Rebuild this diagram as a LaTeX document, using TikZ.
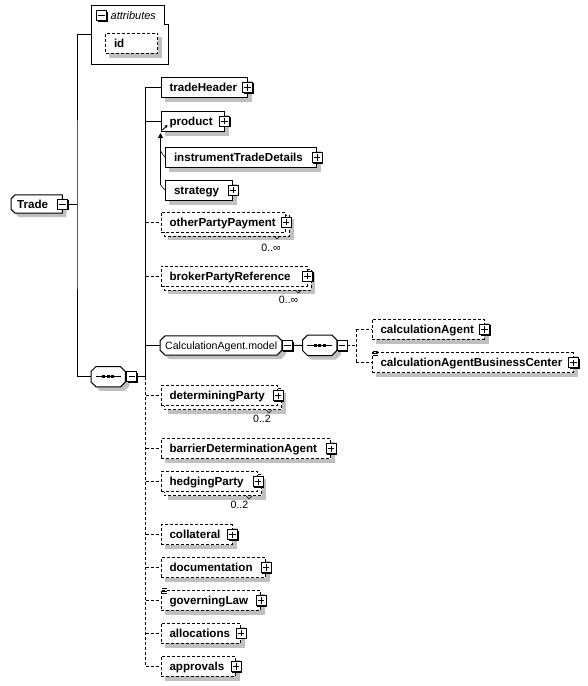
\documentclass[tikz,border=0pt]{standalone}
\usepackage{fontspec}
\newfontfamily\lsans{Liberation Sans}
\usetikzlibrary{backgrounds,arrows.meta}
\definecolor{shadowgray}{RGB}{192,192,192}
\newcommand\bfont{\lsans\bfseries\fontsize{11.6}{13}\selectfont}
\newcommand\rfont{\lsans\fontsize{10.6}{12}\selectfont}
\newcommand\ifont{\lsans\itshape\fontsize{11}{13}\selectfont}
\tikzset{
 ln/.style={line width=1pt, draw=black},
 opt/.style={dash pattern=on 3pt off 2pt},
 ebox/.style={ln, fill=white, anchor=west, inner xsep=8.5pt, inner ysep=0pt, minimum height=20pt, text height=8.4pt, text depth=0pt, font=\bfont},
 sbox/.style={anchor=west, inner sep=0pt, minimum height=20pt},
 lbl/.style={anchor=east, inner sep=0pt, font=\rfont},
 shadowfill/.style={fill=shadowgray},
 icon/.style={line width=1pt},
}
\newcommand\elem[6][]{\node[ebox,#1] (#2) at (#3,#4) {\makebox[\dimexpr #5pt-17pt\relax][l]{#6}};}
\newcommand\plusicon[1]{%
 \fill[black] ([shift={(-4,-4)}]#1) rectangle ([shift={(6.2,6.2)}]#1);
 \filldraw[fill=white,draw=black,icon] ([shift={(-5,-5)}]#1) rectangle ([shift={(5,5)}]#1);
 \draw[icon] ([shift={(-3.2,0)}]#1) -- ([shift={(3.2,0)}]#1) ([shift={(0,-3.2)}]#1) -- ([shift={(0,3.2)}]#1);}
\newcommand\minusicon[1]{%
 \fill[black] ([shift={(-4,-4)}]#1) rectangle ([shift={(6.2,6.2)}]#1);
 \filldraw[fill=white,draw=black,icon] ([shift={(-5,-5)}]#1) rectangle ([shift={(5,5)}]#1);
 \draw[icon] ([shift={(-3.2,0)}]#1) -- ([shift={(3.2,0)}]#1);}
\newcommand\octpath[3]{([shift={(#2+#3,#3)}]#1.north west) -- ([shift={(-#2+#3,#3)}]#1.north east) -- ([shift={(#3,#2+#3)}]#1.north east) -- ([shift={(#3,-#2+#3)}]#1.south east) -- ([shift={(-#2+#3,#3)}]#1.south east) -- ([shift={(#2+#3,#3)}]#1.south west) -- ([shift={(#3,-#2+#3)}]#1.south west) -- ([shift={(#3,#2+#3)}]#1.north west) -- cycle}
\newcommand\tradepath[1]{([shift={(4+#1,#1)}]trade.north west) -- ([shift={(#1,#1)}]trade.north east) -- ([shift={(#1,#1)}]trade.south east) -- ([shift={(4+#1,#1)}]trade.south west) -- ([shift={(#1,-4+#1)}]trade.south west) -- ([shift={(#1,4+#1)}]trade.north west) -- cycle}
\newcommand\boxshadow[2]{\fill[shadowfill] ([shift={(#2,#2)}]#1.north west) rectangle ([shift={(#2,#2)}]#1.south east);}
\newcommand\backbox[1]{\filldraw[ln,opt,fill=white] ([shift={(3.5,3.5)}]#1.north west) rectangle ([shift={(3.5,3.5)}]#1.south east);}
\begin{document}
\begin{tikzpicture}[x=1pt,y=-1pt]
\useasboundingbox (0,0) rectangle (587,686);
\begin{scope}[on background layer]\fill[white] (0,0) rectangle (587,686);\end{scope}

% ---- nodes
\node[sbox, minimum width=76.7pt, minimum height=58.7pt, anchor=north west] (attr) at (91.3,5.3) {};
\node[anchor=west, inner sep=0pt, font=\ifont] (attrlbl) at (110.5,15.5) {attributes};
\elem[opt]{id}{105}{43}{52}{id}
\node[anchor=west, inner xsep=6pt, inner ysep=0pt, minimum height=18pt, text height=8.4pt, text depth=0pt, font=\bfont] (trade) at (11,204) {\makebox[39pt][l]{Trade}};
\node[sbox, minimum width=34pt] (seqa) at (91,376.7) {};
\elem{tradeHeader}{160.5}{87.3}{86}{tradeHeader}
\elem{product}{160.5}{121}{63}{product}
\elem{itd}{165}{157.3}{151}{instrumentTradeDetails}
\elem{strategy}{165}{190}{67}{strategy}
\elem[opt]{opp}{160.5}{222}{124.5}{otherPartyPayment}
\elem[opt]{bpr}{160.5}{276}{146}{brokerPartyReference}
\node[anchor=west, inner xsep=5pt, inner ysep=0pt, minimum height=19pt, text height=7.7pt, text depth=0pt, font=\rfont] (cm) at (160,345.5) {\makebox[111.5pt][l]{CalculationAgent.model}};
\node[sbox, minimum width=34pt] (seqb) at (302.5,345.3) {};
\elem[opt]{ca}{371.5}{329.3}{112}{calculationAgent}
\elem[opt]{cabc}{371.5}{362.7}{201}{calculationAgentBusinessCenter}
\elem[opt]{dp}{160.5}{395.7}{116.5}{determiningParty}
\elem[opt]{bda}{160.5}{448.7}{169.5}{barrierDeterminationAgent}
\elem[opt]{hp}{160.5}{481.7}{96.5}{hedgingParty}
\elem[opt]{coll}{160.5}{534.7}{71}{collateral}
\elem[opt]{doc}{160.5}{567.5}{104.5}{documentation}
\elem[opt]{gl}{160.5}{600.3}{99.5}{governingLaw}
\elem[opt]{alloc}{160.5}{633}{79.5}{allocations}
\elem[opt]{appr}{160.5}{666.3}{74.5}{approvals}
\node[lbl] (oppm) at (281,247.7) {0..∞};
\node[lbl] (bprm) at (298.5,300) {0..∞};
\node[lbl] (dpm) at (271,419) {0..2};
\node[lbl] (hpm) at (248.5,505) {0..2};

% ---- shadows, back boxes, outlines
\begin{scope}[on background layer]
 \foreach \n in {id,tradeHeader,product,itd,strategy,ca,cabc,bda,coll,doc,gl,alloc,appr} {\boxshadow{\n}{4}}
 \foreach \n in {opp,bpr,dp,hp} {\boxshadow{\n}{7.5}}
 \foreach \n in {opp,bpr,dp,hp} {\backbox{\n}}
 \fill[shadowfill] \tradepath{4};
 \filldraw[ln,fill=white] \tradepath{0};
 \foreach \n in {seqa,seqb,cm} {\fill[shadowfill] \octpath{\n}{5}{4}; \filldraw[ln,fill=white] \octpath{\n}{5}{0};}
\end{scope}
\draw[ln] (attr.north west) -- ([shift={(-4,0)}]attr.north east) -- ([shift={(-4,18.7)}]attr.north east) -- ([shift={(0,18.7)}]attr.north east) -- (attr.south east) -- (attr.south west) -- cycle;

% ---- connectors
\coordinate (tx) at (77,204);
\coordinate (bj) at (145.7,376.7);
\coordinate (bj2) at (356,345.3);
\coordinate (subbot) at (160.5,185);
\coordinate (subitd) at (160.5,151);
\draw[ln] (trade.east) -- (tx);
\draw[ln] (attr.west) -| (tx) |- (seqa.west);
\draw[ln] (seqa.east) -- (bj);
\draw[ln] (bj) -- (bj |- tradeHeader.west) -- (tradeHeader.west);
\draw[ln] (bj |- product.west) -- (product.west);
\draw[ln] (bj |- cm.west) -- (cm.west);
\draw[ln,opt] (bj |- opp.west) -- (opp.west);
\draw[ln,opt] (bj |- bpr.west) -- (bpr.west);
\draw[ln,opt] (bj) -- (bj |- appr.west) -- (appr.west);
\foreach \n in {dp,bda,hp,coll,doc,gl,alloc} {\draw[ln,opt] (bj |- \n.west) -- (\n.west);}
\draw[ln] (cm.east) -- (seqb.west);
\draw[ln,opt] (seqb.east) -- (bj2);
\draw[ln,opt] (bj2 |- ca.west) -- (bj2 |- cabc.west);
\draw[ln,opt] (bj2 |- ca.west) -- (ca.west);
\draw[ln,opt] (bj2 |- cabc.west) -- (cabc.west);
\draw[ln,-{Triangle[length=5pt,width=5pt]},shorten >=1.5pt] (subbot) -- (product.south west);
\draw[line width=0.6pt] (subitd) -- (itd.west);
\draw[line width=0.6pt] (subbot) -- (strategy.west);
\draw[line width=1pt,-{Stealth[length=3pt,width=3.5pt]}] ([shift={(2,-1.5)}]product.south west) -- ([shift={(7,-6.5)}]product.south west);

% ---- small marks
\foreach \n in {opp,bpr,dp,hp} {\draw[line width=0.6pt] ([shift={(-12,3.5)}]\n.south east) -- ([shift={(-9,6.5)}]\n.south east) -- ([shift={(-6,3.5)}]\n.south east);}
\foreach \n in {cabc,gl} {\foreach \d in {-1,1.2,3.4} {\draw[line width=0.7pt] ([shift={(1.5,\d)}]\n.north west) -- ([shift={(6.5,\d)}]\n.north west);}}
\foreach \n in {seqa,seqb} {\draw[ln] ([shift={(4.5,0)}]\n.west) -- ([shift={(-4.5,0)}]\n.east);
 \foreach \dx in {-4.5,0,4.5} {\fill ([shift={(\dx-1.6,-1.4)}]\n.center) rectangle ([shift={(\dx+1.6,1.4)}]\n.center);}}

% ---- icons
\foreach \n in {tradeHeader,product,itd,strategy,opp,bpr,ca,cabc,dp,bda,hp,coll,doc,gl,alloc,appr} {\plusicon{\n.east}}
\coordinate (attrm) at ([shift={(10.2,10.2)}]attr.north west);
\coordinate (seqam) at ([shift={(6.3,0)}]seqa.east);
\coordinate (cmm) at ([shift={(5.5,0)}]cm.east);
\coordinate (seqbm) at ([shift={(5.3,0)}]seqb.east);
\minusicon{attrm}
\minusicon{trade.east}
\minusicon{seqam}
\minusicon{cmm}
\minusicon{seqbm}
\end{tikzpicture}
\end{document}
